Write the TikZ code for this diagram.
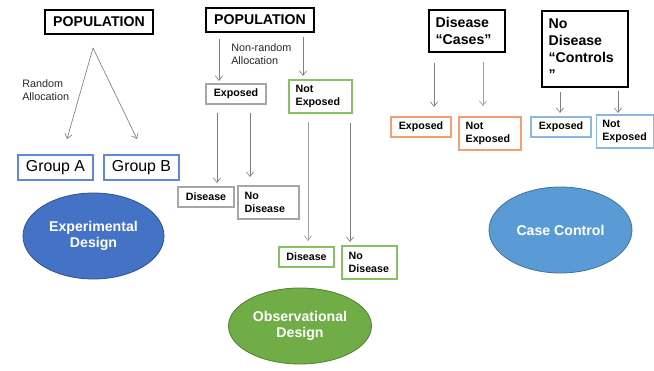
\documentclass[tikz,border=0pt]{standalone}
\usepackage{fontspec}
\setmainfont{Liberation Sans}
\usetikzlibrary{arrows.meta,shapes.geometric}
\definecolor{grpblue}{HTML}{5B8BD6}
\definecolor{ccblue}{HTML}{8DB6E2}
\definecolor{orbox}{HTML}{F2A070}
\definecolor{grbox}{HTML}{86C263}
\definecolor{gybox}{HTML}{A6A6A6}
\definecolor{arrgray}{HTML}{808080}
\definecolor{arrlight}{HTML}{A0A0A0}
\definecolor{expfill}{HTML}{4472C4}
\definecolor{expline}{HTML}{2F528F}
\definecolor{obsfill}{HTML}{70AD47}
\definecolor{obsline}{HTML}{507E32}
\definecolor{ccfill}{HTML}{5B9BD5}
\definecolor{ccline}{HTML}{41719C}
\tikzset{
  bigbox/.style={draw=black, line width=0.9pt, font=\fontsize{10.6}{12.75}\selectfont\bfseries, inner sep=0pt},
  smallbox/.style={draw=#1, line width=0.9pt, font=\fontsize{8}{9.75}\selectfont\bfseries, inner sep=0pt},
  grpbox/.style={draw=grpblue, line width=0.9pt, font=\fontsize{11.9}{14}\selectfont, inner sep=0pt, minimum width=56.25pt, minimum height=18.75pt},
  designell/.style={ellipse, fill=#1, inner sep=0pt, text=white, font=\fontsize{10.6}{12.5}\selectfont\bfseries, align=center},
  arr/.style={draw=arrgray, line width=0.5pt, -{Straight Barb[length=3.5pt,width=5.5pt]}},
  arrl/.style={draw=arrlight, line width=0.5pt, -{Straight Barb[length=3.5pt,width=5.5pt]}},
  note/.style={font=\fontsize{8.1}{9.75}\selectfont, align=left, inner sep=0pt, anchor=north west, text=black!85}
}
\begin{document}
\begin{tikzpicture}[x=0.75pt,y=-0.75pt]
\useasboundingbox (0,0) rectangle (654,371);
% ---------- Experimental ----------
\node[bigbox, minimum width=81pt, minimum height=18pt] (pop1) at (99,22) {POPULATION};
\node[grpbox] (grpA) at (55.5,167.5) {Group A};
\node[grpbox] (grpB) at (141.5,167.5) {Group B};
\node[designell=expfill, draw=expline, line width=0.6pt, minimum width=105.75pt, minimum height=64.5pt] (expd) at (93.5,236) {Experimental\\Design};
\node[note] (randlab) at (22,79) {Random\\Allocation};
\coordinate (apex) at (93,48);
\coordinate (ea) at (67,139);
\coordinate (eb) at (137,139);
\draw[arr] (apex) -- (ea);
\draw[arr] (apex) -- (eb);
% ---------- Observational ----------
\node[bigbox, minimum width=81pt, minimum height=18pt] (pop2) at (260,20) {POPULATION};
\node[note] (nonrand) at (231,43) {Non-random\\Allocation};
\node[smallbox=gybox, minimum width=45pt, minimum height=15pt] (exp1) at (236,94) {Exposed};
\node[smallbox=grbox, minimum width=47.25pt, minimum height=24.75pt, text width=37.25pt, align=left] (nexp1) at (320.5,96.5) {Not\\Exposed};
\node[smallbox=gybox, minimum width=42pt, minimum height=15pt] (dis1) at (206,197) {Disease};
\node[smallbox=gybox, minimum width=45.75pt, minimum height=24.75pt, text width=35.75pt, align=left] (nodis1) at (268.5,202.5) {No\\Disease};
\node[smallbox=grbox, minimum width=41.25pt, minimum height=15pt] (dis2) at (306.5,257) {Disease};
\node[smallbox=grbox, minimum width=41.25pt, minimum height=24.75pt, text width=31.25pt, align=left] (nodis2) at (369.5,262.5) {No\\Disease};
\node[designell=obsfill, draw=obsline, line width=0.6pt, minimum width=107.25pt, minimum height=57pt] (obsd) at (300,326) {Observational\\Design};
\coordinate (s3) at (219,39); \coordinate (e3) at (219,81);
\coordinate (s4) at (303,37); \coordinate (e4) at (303,76);
\coordinate (s5) at (217,113); \coordinate (e5) at (217,183);
\coordinate (s6) at (250,113); \coordinate (e6) at (250,177);
\coordinate (s7) at (308,122); \coordinate (e7) at (308,241);
\coordinate (s8) at (350,123); \coordinate (e8) at (350,242);
\draw[arr] (s3) -- (e3);
\draw[arr] (s4) -- (e4);
\draw[arr] (s5) -- (e5);
\draw[arr] (s6) -- (e6);
\draw[arrl] (s7) -- (e7);
\draw[arr] (s8) -- (e8);
% ---------- Case control ----------
\node[bigbox, minimum width=57pt, minimum height=31.5pt, text width=47pt, align=left] (cases) at (467,31) {Disease\\“Cases”};
\node[bigbox, minimum width=64.5pt, minimum height=57pt, text width=54.5pt, align=left] (controls) at (585,49) {No\\Disease\\“Controls\\”};
\node[smallbox=orbox, minimum width=45pt, minimum height=15pt] (exp3) at (421,127) {Exposed};
\node[smallbox=orbox, minimum width=46.5pt, minimum height=24.75pt, text width=36.5pt, align=left] (nexp3) at (490,133.5) {Not\\Exposed};
\node[smallbox=ccblue, minimum width=45pt, minimum height=15pt] (exp4) at (561,127) {Exposed};
\node[smallbox=ccblue, minimum width=42.75pt, minimum height=24.75pt, text width=34pt, align=left] (nexp4) at (625,131.5) {Not\\Exposed};
\node[designell=ccfill, draw=ccline, line width=0.6pt, minimum width=107.25pt, minimum height=64.5pt] (ccd) at (560.5,230) {Case Control};
\coordinate (s9) at (434,63); \coordinate (e9) at (434,107);
\coordinate (s10) at (483,62); \coordinate (e10) at (483,106);
\coordinate (s11) at (560,92); \coordinate (e11) at (560,113);
\coordinate (s12) at (618,91); \coordinate (e12) at (618,113);
\draw[arr] (s9) -- (e9);
\draw[arrl] (s10) -- (e10);
\draw[arr] (s11) -- (e11);
\draw[arr] (s12) -- (e12);
\end{tikzpicture}
\end{document}
